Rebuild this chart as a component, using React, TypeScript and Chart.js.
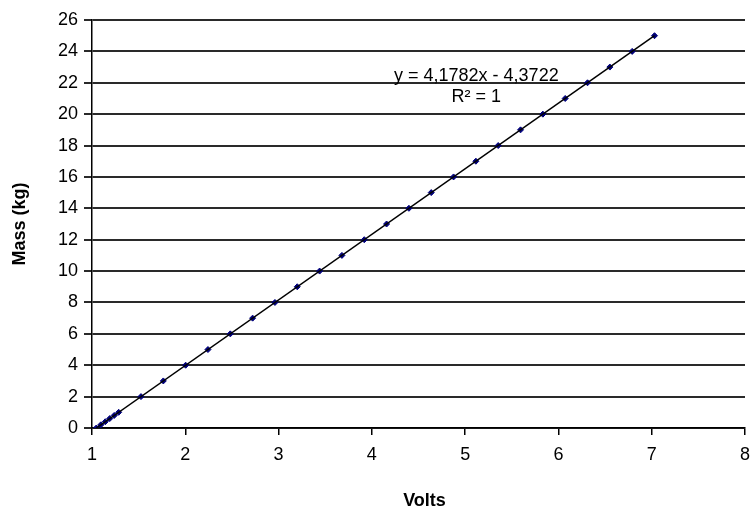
import React, { useEffect, useRef } from "react";
import { Chart, registerables } from "chart.js";

Chart.register(...registerables);

// Mass (kg) readings and the measured voltage for each
const massKg: number[] = [0, 0.2, 0.4, 0.6, 0.8, 1, 2, 3, 4, 5, 6, 7, 8, 9, 10, 11, 12, 13, 14, 15, 16, 17, 18, 19, 20, 21, 22, 23, 24, 25];
const volts: number[] = [1.0464, 1.0943, 1.1422, 1.19, 1.2379, 1.2858, 1.5251, 1.7645, 2.0038, 2.2431, 2.4825, 2.7218, 2.9611, 3.2005, 3.4398, 3.6792, 3.9185, 4.1578, 4.3972, 4.6365, 4.8758, 5.1152, 5.3545, 5.5939, 5.8332, 6.0725, 6.3119, 6.5512, 6.7905, 7.0299];

// Linear trendline end points
const trendX: number[] = [1.0464, 7.0299];
const trendY: number[] = [0, 25];

const equationText = "y = 4,1782x - 4,3722";
const r2Text = "R² = 1";
const xTitle = "Volts";
const yTitle = "Mass (kg)";

const FONT = "'Liberation Sans', Arial, sans-serif";

export default function App() {
  const ref = useRef<HTMLCanvasElement | null>(null);

  useEffect(() => {
    if (!ref.current) return;
    const textPlugin = {
      id: "texts",
      afterDraw(chart: any) {
        const { ctx, chartArea, scales } = chart;
        const xs = scales.x;
        const ys = scales.y;
        ctx.save();
        ctx.fillStyle = "#000";
        ctx.textAlign = "center";
        ctx.textBaseline = "alphabetic";
        ctx.font = `18px ${FONT}`;
        const ex = xs.getPixelForValue(5.12);
        ctx.fillText(equationText, ex, ys.getPixelForValue(22.1));
        ctx.fillText(r2Text, ex, ys.getPixelForValue(20.75));
        ctx.font = `bold 18px ${FONT}`;
        ctx.textBaseline = "middle";
        ctx.fillText(xTitle, (chartArea.left + chartArea.right) / 2 + 6, 501);
        ctx.translate(20, (chartArea.top + chartArea.bottom) / 2);
        ctx.rotate(-Math.PI / 2);
        ctx.fillText(yTitle, 0, 0);
        ctx.restore();
      },
    };

    const chart = new Chart(ref.current, {
      type: "scatter",
      data: {
        datasets: [
          {
            type: "line",
            label: "trend",
            data: trendX.map((x, i) => ({ x, y: trendY[i] })),
            borderColor: "#000",
            borderWidth: 1.5,
            pointRadius: 0,
            fill: false,
          } as any,
          {
            label: "Mass",
            data: volts.map((x, i) => ({ x, y: massKg[i] })),
            backgroundColor: "#00007a",
            borderColor: "#00007a",
            pointStyle: "rectRot",
            pointRadius: 3,
            borderWidth: 1,
          },
        ],
      },
      options: {
        responsive: false,
        animation: false,
        layout: { padding: { left: 0, top: 20, right: 4, bottom: 0 } },
        plugins: { legend: { display: false }, tooltip: { enabled: false } },
        scales: {
          x: {
            type: "linear",
            min: 1,
            max: 8,
            ticks: { stepSize: 1, color: "#000", font: { family: FONT, size: 18 }, padding: 9 },
            grid: { drawOnChartArea: false, drawTicks: true, tickLength: 7, color: "#000", lineWidth: 1.5 },
            border: { display: true, color: "#000", width: 1.5 },
            afterFit: (s: any) => { s.height = 87; s.paddingRight = 0; s.paddingLeft = 0; },
          },
          y: {
            type: "linear",
            min: 0,
            max: 26,
            ticks: { stepSize: 2, color: "#000", font: { family: FONT, size: 18 }, padding: 6 },
            grid: { drawOnChartArea: true, drawTicks: true, tickLength: 8, color: "#2a2a2a", lineWidth: 2 },
            border: { display: true, color: "#000", width: 1.5 },
            afterFit: (s: any) => { s.width = 92; s.paddingTop = 0; s.paddingBottom = 0; },
          },
        },
      },
      plugins: [textPlugin],
    } as any);
    return () => chart.destroy();
  }, []);

  return (
    <div style={{ position: "absolute", left: 0, top: 0, width: 750, height: 515, background: "#fff" }}>
      <canvas ref={ref} width={750} height={515} />
    </div>
  );
}
